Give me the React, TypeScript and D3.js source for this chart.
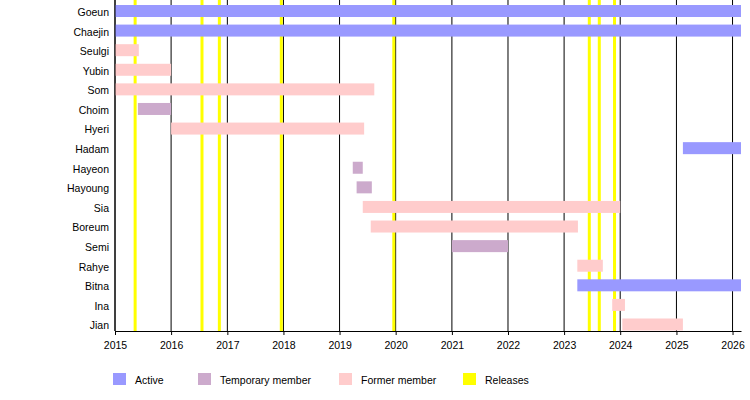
import React, { useRef, useEffect } from 'react';
import * as d3 from 'd3';

// members top to bottom
const members = [
  'Goeun', 'Chaejin', 'Seulgi', 'Yubin', 'Som', 'Choim', 'Hyeri', 'Hadam', 'Hayeon',
  'Hayoung', 'Sia', 'Boreum', 'Semi', 'Rahye', 'Bitna', 'Ina', 'Jian',
];

const END = '2026-02-25';

// [member, start, end, status]
const periods: [string, string, string, string][] = [
  ['Goeun', '2015-01-01', END, 'active'],
  ['Chaejin', '2015-01-01', END, 'active'],
  ['Seulgi', '2015-01-01', '2015-06-05', 'former'],
  ['Yubin', '2015-01-01', '2016-01-01', 'former'],
  ['Som', '2015-01-01', '2019-08-15', 'former'],
  ['Choim', '2015-05-30', '2016-01-01', 'temporary'],
  ['Hyeri', '2016-01-01', '2019-06-10', 'former'],
  ['Hadam', '2025-02-12', END, 'active'],
  ['Hayeon', '2019-03-28', '2019-06-01', 'temporary'],
  ['Hayoung', '2019-04-22', '2019-07-30', 'temporary'],
  ['Sia', '2019-06-01', '2024-01-01', 'former'],
  ['Boreum', '2019-07-23', '2023-04-01', 'former'],
  ['Semi', '2021-01-01', '2022-01-01', 'temporary'],
  ['Rahye', '2023-03-28', '2023-09-10', 'former'],
  ['Bitna', '2023-03-28', END, 'active'],
  ['Ina', '2023-11-10', '2024-02-01', 'former'],
  ['Jian', '2024-01-15', '2025-02-12', 'former'],
];

const releases = [
  '2015-05-12', '2016-07-20', '2016-11-10', '2017-12-18', '2019-12-20',
  '2023-06-14', '2023-08-18', '2023-11-25',
];

const legendItems = [
  { key: 'active', label: 'Active' },
  { key: 'temporary', label: 'Temporary member' },
  { key: 'former', label: 'Former member' },
  { key: 'release', label: 'Releases' },
];

const colors: Record<string, string> = {
  active: '#9999ff',
  temporary: '#ccaacc',
  former: '#ffcccc',
  release: '#ffff00',
};

const App: React.FC = () => {
  const svgRef = useRef<SVGSVGElement>(null);

  useEffect(() => {
    const width = 750;
    const height = 400;
    const left = 115;
    const right = 741;
    const bottom = 331;
    const font = 'Liberation Sans, Arial, sans-serif';

    const svg = d3.select(svgRef.current);
    svg.selectAll('*').remove();
    svg.attr('width', width).attr('height', height);

    const parse = d3.timeParse('%Y-%m-%d');
    const x = d3.scaleTime()
      .domain([parse('2015-01-01')!, parse(END)!])
      .range([left, right]);
    const y = d3.scalePoint<string>()
      .domain(members)
      .range([11, 324.5]);
    const barH = 12;

    // year grid lines
    const years = d3.timeYear.range(parse('2015-01-01')!, parse('2026-06-01')!);
    svg.append('g')
      .selectAll('line')
      .data(years)
      .join('line')
      .attr('x1', d => x(d))
      .attr('x2', d => x(d))
      .attr('y1', 0)
      .attr('y2', bottom)
      .attr('stroke', '#000')
      .attr('stroke-width', 1);

    // release lines
    svg.append('g')
      .selectAll('line')
      .data(releases)
      .join('line')
      .attr('x1', d => x(parse(d)!))
      .attr('x2', d => x(parse(d)!))
      .attr('y1', 0)
      .attr('y2', bottom)
      .attr('stroke', colors.release)
      .attr('stroke-width', 3);

    // bars
    svg.append('g')
      .selectAll('rect')
      .data(periods)
      .join('rect')
      .attr('x', d => x(parse(d[1])!))
      .attr('width', d => x(parse(d[2])!) - x(parse(d[1])!))
      .attr('y', d => y(d[0])! - barH / 2)
      .attr('height', barH)
      .attr('fill', d => colors[d[3]]);

    // x axis
    const xAxis = svg.append('g')
      .attr('transform', `translate(0,${bottom})`)
      .call(
        d3.axisBottom(x)
          .tickValues(years)
          .tickFormat(d3.timeFormat('%Y') as any)
          .tickSize(4)
          .tickSizeOuter(0)
      );
    xAxis.select('.domain').attr('stroke', '#000');
    xAxis.selectAll('text')
      .attr('font-family', font)
      .attr('font-size', 10.5)
      .attr('fill', '#000')
      .attr('dy', '1.05em');

    // y axis
    const yAxis = svg.append('g')
      .attr('transform', `translate(${left},0)`)
      .call(d3.axisLeft(y).tickSize(0).tickPadding(6));
    yAxis.select('.domain')
      .attr('d', `M0,0V${bottom}`)
      .attr('stroke', '#000');
    yAxis.selectAll('text')
      .attr('font-family', font)
      .attr('font-size', 10.5)
      .attr('fill', '#000')
      .attr('dy', '0.42em');

    // legend
    const legendX = [113, 198, 339, 463];
    const legend = svg.append('g');
    const li = legend.selectAll('g')
      .data(legendItems)
      .join('g')
      .attr('transform', (_, i) => `translate(${legendX[i]},373)`);
    li.append('rect')
      .attr('width', 13)
      .attr('height', 12)
      .attr('fill', d => colors[d.key]);
    li.append('text')
      .attr('x', 22)
      .attr('y', 10.5)
      .attr('font-family', font)
      .attr('font-size', 10.5)
      .attr('fill', '#000')
      .text(d => d.label);
  }, []);

  return <svg ref={svgRef} style={{ position: 'absolute', left: 0, top: 0 }} />;
};

export default App;
